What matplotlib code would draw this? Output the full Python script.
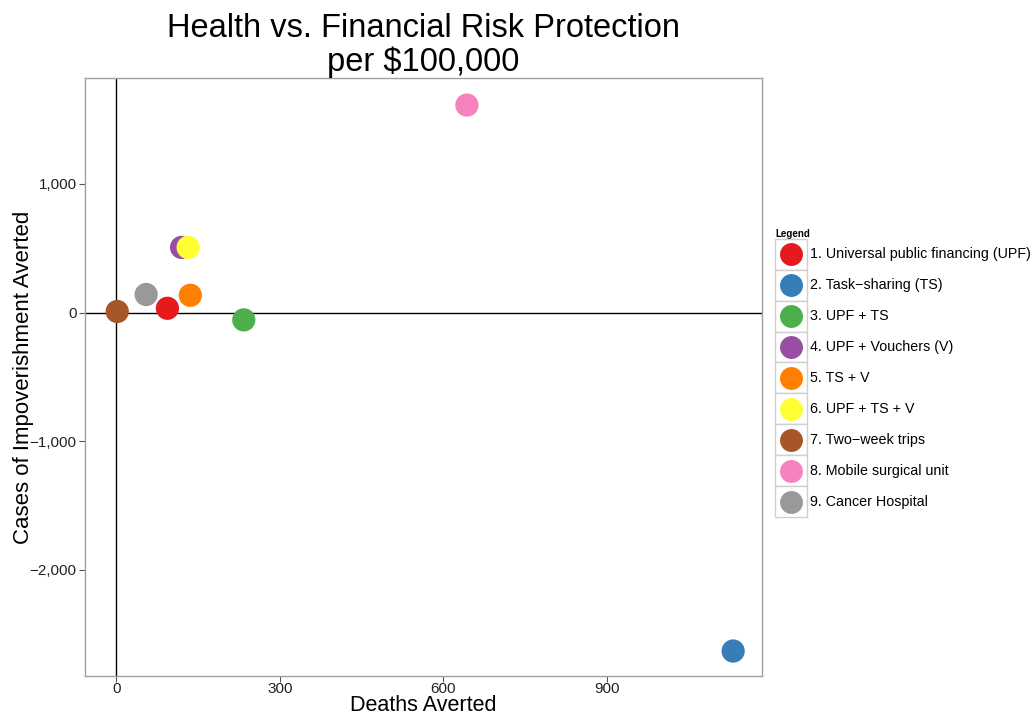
import matplotlib.pyplot as plt
from matplotlib.patches import Rectangle
from matplotlib.lines import Line2D
from matplotlib.ticker import FuncFormatter

plt.rcParams['font.family'] = ['Liberation Sans', 'DejaVu Sans']

labels = [
    "1. Universal public financing (UPF)",
    "2. Task\u2212sharing (TS)",
    "3. UPF + TS",
    "4. UPF + Vouchers (V)",
    "5. TS + V",
    "6. UPF + TS + V",
    "7. Two\u2212week trips",
    "8. Mobile surgical unit",
    "9. Cancer Hospital",
]
deaths_averted = [94, 1131, 234, 120, 136, 132, 2, 643, 55]
impoverishment_averted = [33, -2630, -57, 506, 134, 506, 8, 1612, 140]
colors = ["#E41A1C", "#377EB8", "#4DAF4A", "#984EA3", "#FF7F00",
          "#FFFF33", "#A65628", "#F781BF", "#999999"]


class KeyHandler:
    # grey key box with the dot centred inside, like ggplot legends
    def legend_artist(self, legend, orig_handle, fontsize, handlebox):
        x0, y0 = handlebox.xdescent, handlebox.ydescent
        w, h = handlebox.width, handlebox.height
        box = Rectangle((-x0, -y0), w, h, facecolor="white",
                        edgecolor="#d0d0d0", lw=1,
                        transform=handlebox.get_transform())
        dot = Line2D([-x0 + w / 2], [-y0 + h / 2], marker="o", linestyle="none",
                     markersize=16.5, markerfacecolor=orig_handle.get_color(),
                     markeredgecolor="none", transform=handlebox.get_transform())
        handlebox.add_artist(box)
        handlebox.add_artist(dot)
        return box


fig = plt.figure(figsize=(10.32, 7.17), dpi=100)
ax = fig.add_axes([0.0824, 0.057, 0.656, 0.834])

ax.axhline(0, color="black", lw=1, zorder=1)
ax.axvline(0, color="black", lw=1, zorder=1)

for x, y, c in zip(deaths_averted, impoverishment_averted, colors):
    ax.scatter(x, y, s=280, color=c, edgecolors="none", zorder=3)

ax.set_xlim(-57, 1184)
ax.set_ylim(-2825, 1821)
ax.set_xticks([0, 300, 600, 900])
ax.set_yticks([-2000, -1000, 0, 1000])
ax.yaxis.set_major_formatter(FuncFormatter(
    lambda v, p: f"{int(v):,}".replace("-", "\u2212")))

for s in ax.spines.values():
    s.set_color("#a0a0a0")
    s.set_linewidth(1)
ax.tick_params(axis="both", length=4, width=0.8, color="#555555",
               labelsize=11, labelcolor="#222222", pad=2)
ax.tick_params(axis="x", pad=0.5)

ax.set_xlabel("Deaths Averted", fontsize=15.5, labelpad=-1)
ax.set_ylabel("Cases of Impoverishment Averted", fontsize=16, labelpad=-3)
ax.set_title("Health vs. Financial Risk Protection\nper $100,000",
             fontsize=23.5, linespacing=1.1, pad=-2)

handles = [Line2D([], [], color=c) for c in colors]
leg = fig.legend(handles, labels, loc="upper left", bbox_to_anchor=(0.751, 0.681),
                 frameon=False, fontsize=10.3, title="Legend",
                 title_fontproperties={"size": 7, "weight": "bold"},
                 handler_map={Line2D: KeyHandler()},
                 handlelength=2.2, handleheight=2.95, labelspacing=0.0,
                 handletextpad=0.25, borderpad=0.0, borderaxespad=0)
leg._legend_box.align = "left"

fig.savefig("out.png", dpi=100)
